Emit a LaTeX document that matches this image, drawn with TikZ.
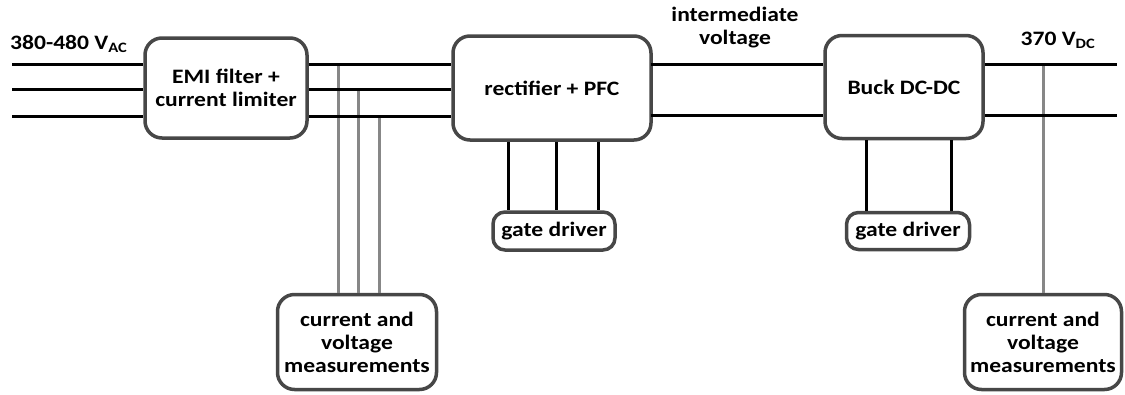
\documentclass[tikz,border=0pt]{standalone}
\usepackage{fontspec}
\setmainfont{Carlito}[FakeStretch=1.15]
\usepackage{tikz}

\begin{document}
\begin{tikzpicture}[x=1pt, y=-1pt,
    every node/.style={font=\bfseries\fontsize{20.5}{23}\selectfont},
    block/.style={draw=black!72, line width=3.5pt, rounded corners=17pt, fill=white,
                  align=center, inner sep=0pt},
    bus/.style={black, line width=3pt},
    tap/.style={black!47, line width=3pt}]
  \useasboundingbox (0,0) rectangle (1125,394);
  \coordinate (acA) at (12,64);
  \coordinate (acB) at (12,89);
  \coordinate (acC) at (12,116);
  \coordinate (dcA) at (651,64);
  \coordinate (dcB) at (651,115);
  \coordinate (outA) at (1117,64);
  \coordinate (outB) at (1117,115);

  \node[block, minimum width=162pt, minimum height=100pt] (emi) at (226,88) {EMI filter +\\current limiter};
  \node[block, minimum width=198pt, minimum height=104pt] (rect) at (552,88) {rectifier + PFC};
  \node[block, minimum width=158pt, minimum height=103pt] (buck) at (904,87) {Buck DC-DC};
  \node[block, minimum width=122pt, minimum height=38pt, rounded corners=12pt] (gd1) at (554,231) {gate driver};
  \node[block, minimum width=123pt, minimum height=37pt, rounded corners=12pt] (gd2) at (908,231) {gate driver};
  \node[block, minimum width=159pt, minimum height=95pt] (meas1) at (357,342) {current and\\voltage\\measurements};
  \node[block, minimum width=157pt, minimum height=95pt] (meas2) at (1043,342) {current and\\voltage\\measurements};

  \node[anchor=west, inner sep=0pt] (vac) at (10,44) {380-480 V\textsubscript{AC}};
  \node[align=center] (vint) at (735,28) {intermediate\\voltage};
  \node (vdc) at (1058,40) {370 V\textsubscript{DC}};

  \draw[tap] (338,64) -- (338,0 |- meas1.north);
  \draw[tap] (358,89) -- (358,0 |- meas1.north);
  \draw[tap] (379,116) -- (379,0 |- meas1.north);
  \draw[tap] (1043,64) -- (meas2.north);

  \draw[bus] (acA) -- (acA -| emi.west);
  \draw[bus] (acB) -- (acB -| emi.west);
  \draw[bus] (acC) -- (acC -| emi.west);
  \draw[bus] (acA -| emi.east) -- (acA -| rect.west);
  \draw[bus] (acB -| emi.east) -- (acB -| rect.west);
  \draw[bus] (acC -| emi.east) -- (acC -| rect.west);
  \draw[bus] (dcA) -- (dcA -| buck.west);
  \draw[bus] (dcB) -- (dcB -| buck.west);
  \draw[bus] (outA -| buck.east) -- (outA);
  \draw[bus] (outB -| buck.east) -- (outB);

  \draw[bus] (508,0 |- rect.south) -- (508,0 |- gd1.north);
  \draw[bus] (556,0 |- rect.south) -- (556,0 |- gd1.north);
  \draw[bus] (598,0 |- rect.south) -- (598,0 |- gd1.north);
  \draw[bus] (866,0 |- buck.south) -- (866,0 |- gd2.north);
  \draw[bus] (951,0 |- buck.south) -- (951,0 |- gd2.north);
\end{tikzpicture}
\end{document}
